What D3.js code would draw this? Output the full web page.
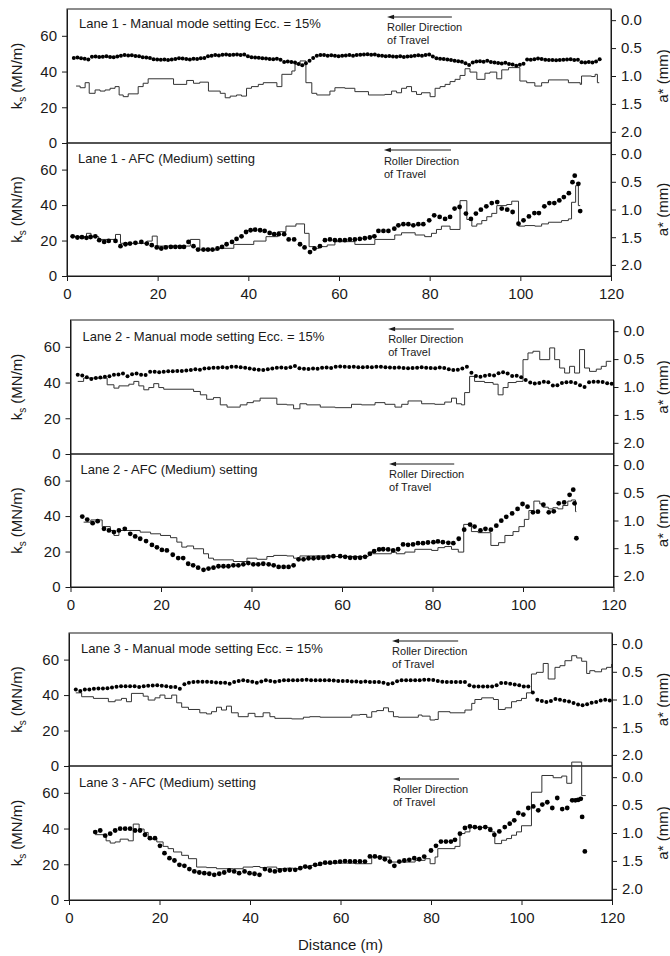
<!DOCTYPE html>
<html>
<head>
<meta charset="utf-8">
<script src="https://cdn.jsdelivr.net/npm/d3@7"></script>
<style>
  html, body { margin: 0; padding: 0; background: #fff; }
  svg { display: block; font-family: "Liberation Sans", Arial, sans-serif; }
</style>
</head>
<body>
<svg id="chart" width="670" height="956"></svg>
<script>
// ---------------- data ----------------
const distanceTicks = [0, 20, 40, 60, 80, 100, 120];
const ksTicks = [0, 20, 40, 60];
const aTicks = [0, 0.5, 1.0, 1.5, 2.0];
const ksDomain = [0, 75];
const aDomain = [-0.2, 2.2];

const panelTitles = [
  "Lane 1 - Manual mode setting Ecc. = 15%",
  "Lane 1 - AFC (Medium) setting",
  "Lane 2 - Manual mode setting Ecc. = 15%",
  "Lane 2 - AFC (Medium) setting",
  "Lane 3 - Manual mode setting Ecc. = 15%",
  "Lane 3 - AFC (Medium) setting"
];
const directionText = ["Roller Direction", "of Travel"];

// Manual-mode ks readings, evenly spaced along the lane (start, spacing in m)
const lane1ManualStart = 1.5, lane1ManualSpacing = 0.8;
const lane1ManualKs = [
  47.6,47.8,47.5,47.2,46.8,48.3,48.4,48.2,48.3,48.5,
  48.2,48.0,48.4,48.8,49.2,49.0,49.1,48.7,48.5,48.0,
  47.8,47.6,46.9,46.7,46.6,46.7,46.5,46.7,47.0,47.4,
  47.3,47.0,46.8,47.2,47.0,47.4,47.6,48.5,48.8,49.2,
  49.0,49.4,49.6,49.2,49.4,49.6,49.3,49.5,48.6,48.0,
  47.9,47.7,47.4,47.3,47.0,46.9,47.2,46.6,45.4,45.6,
  45.3,45.0,44.2,43.5,44.6,46.0,47.6,48.8,49.2,49.3,
  48.9,49.1,48.8,48.6,48.9,49.0,49.2,48.9,49.3,49.4,
  49.6,49.7,49.4,49.5,49.0,48.8,48.6,48.7,48.4,48.3,
  48.5,48.2,48.4,48.6,48.8,49.1,48.8,49.3,49.5,48.4,
  47.5,47.2,47.0,46.7,46.5,46.0,45.8,45.5,44.6,43.6,
  45.0,45.6,45.8,45.5,46.0,45.4,45.0,44.8,44.5,44.9,
  44.2,44.0,43.2,43.8,44.4,46.8,46.6,46.9,47.3,47.0,
  46.6,46.4,46.5,46.3,46.5,46.6,46.8,46.9,46.4,46.6,
  45.2,45.0,45.4,45.1,45.6,46.9
];
const lane2ManualStart = 1.6, lane2ManualSpacing = 1.0;
const lane2ManualKs = [
  44.3,44.0,43.0,42.0,42.5,42.8,43.2,43.5,44.3,44.5,
  45.0,43.5,44.6,45.0,44.3,44.2,46.0,46.0,45.8,46.0,
  46.3,46.3,46.5,46.5,46.8,47.0,47.5,47.2,47.8,48.0,
  48.3,48.3,48.6,48.3,48.8,48.9,48.5,48.3,47.8,47.5,
  47.2,47.0,47.5,47.8,48.3,48.4,48.2,48.5,49.3,48.0,
  47.7,47.6,47.8,47.7,48.3,48.4,48.2,48.8,49.0,48.9,
  48.7,48.8,48.5,48.6,48.7,48.5,48.8,48.9,48.6,48.4,
  48.3,48.4,48.2,48.0,48.2,48.3,48.5,48.3,48.2,48.0,
  48.4,48.1,47.5,47.0,47.2,47.8,48.8,45.5,43.6,43.3,
  43.8,44.2,44.0,45.2,45.8,45.0,43.6,43.8,43.0,41.4,
  40.0,39.5,39.8,40.5,40.2,38.3,38.5,39.8,40.2,40.3,
  39.8,38.5,37.5,40.2,40.4,40.5,40.3,39.6,39.3
];
const lane3ManualStart = 1.5, lane3ManualSpacing = 1.0;
const lane3ManualKs = [
  43.1,42.3,43.1,43.1,43.5,43.7,43.7,43.9,44.3,44.7,
  45.0,45.0,45.0,45.0,44.6,45.0,45.2,45.4,45.5,45.3,
  45.0,44.6,44.6,43.6,46.1,46.9,47.3,47.5,47.5,47.5,
  47.3,47.1,46.9,46.9,46.4,47.3,48.0,48.3,48.0,47.5,
  46.9,47.6,48.3,48.0,47.5,48.0,48.3,48.3,48.3,48.3,
  48.5,48.7,48.3,48.3,48.3,48.3,48.3,48.2,47.9,47.9,
  47.9,47.7,47.7,47.3,47.7,47.3,47.3,47.3,46.9,46.3,
  46.6,47.8,48.3,48.3,48.3,48.3,48.3,48.7,48.7,48.5,
  47.9,47.5,47.3,47.3,47.3,47.3,47.3,45.6,44.9,44.9,
  44.9,44.9,44.9,45.5,46.8,46.8,46.4,45.9,45.5,44.9,
  44.9,41.5,37.4,36.7,36.1,36.6,37.8,37.3,36.8,36.4,
  35.5,34.7,34.3,34.8,35.6,36.1,36.9,37.3,36.9
];

// AFC ks readings: [distance (m), ks (MN/m)]
const lane1AfcKs = [
  [1.25,22.4],[2.3,21.7],[3.3,21.9],[4.3,21.5],[5.2,22.0],[6.25,22.4],[7.1,20.2],[8.2,19.2],[9.2,19.8],[10.7,19.8],
  [11.8,16.8],[12.9,17.9],[13.9,18.3],[15.1,18.7],[16.4,19.2],[17.6,18.3],[18.7,17.4],[19.8,16.1],[20.8,15.5],[21.8,16.1],
  [22.9,16.4],[23.9,16.4],[24.9,16.4],[25.8,16.4],[26.8,19.2],[27.9,16.8],[28.9,14.9],[30.1,14.9],[31.1,14.9],[32.1,14.9],
  [33.2,15.5],[34.2,16.4],[35.2,17.9],[36.4,19.2],[37.4,20.9],[38.5,22.4],[39.5,24.8],[40.5,25.8],[41.5,26.1],[42.6,25.8],
  [43.6,25.4],[44.7,24.3],[45.7,23.6],[46.7,23.6],[47.9,23.6],[48.9,20.6],[50.1,20.6],[51.4,17.9],[52.4,16.1],[53.6,13.5],
  [54.6,15.5],[55.8,16.8],[56.9,20.2],[58.0,20.6],[59.1,20.2],[60.2,20.2],[61.3,20.2],[62.4,20.6],[63.5,20.6],[64.6,20.9],
  [65.7,21.3],[66.8,21.7],[67.8,22.4],[68.7,25.4],[69.8,25.4],[70.9,25.4],[72.2,26.7],[73.1,28.6],[74.2,29.2],[75.3,29.2],
  [76.4,28.6],[77.5,29.2],[78.6,29.2],[79.9,31.4],[81.0,34.2],[82.2,33.3],[83.4,32.2],[84.5,33.3],[85.5,38.0],[86.6,38.9],
  [88.0,35.2],[89.1,32.2],[90.2,35.2],[91.3,37.4],[92.5,39.3],[93.7,41.1],[94.9,41.7],[95.9,38.0],[97.1,37.4],[98.3,36.1],
  [99.6,29.5],[100.7,31.4],[101.9,33.6],[103.1,35.5],[104.1,35.5],[105.3,39.3],[106.4,41.1],[107.5,41.1],[108.6,42.6],[109.6,44.5],
  [110.7,46.7],[111.5,52.9],[112.0,56.6],[112.8,52.0],[113.2,36.6]
];
const lane2AfcKs = [
  [2.6,39.7],[3.7,38.0],[4.9,36.0],[6.0,37.1],[7.4,32.8],[8.5,31.9],[9.6,31.0],[10.7,31.9],[12.0,32.8],[13.2,30.0],
  [14.3,28.5],[15.4,27.2],[16.7,25.9],[18.0,23.7],[19.1,22.4],[20.2,20.9],[21.3,20.6],[22.6,18.2],[23.8,16.3],[24.9,16.3],
  [26.0,13.1],[27.1,12.2],[28.2,10.9],[29.4,9.7],[30.5,10.4],[31.6,10.9],[32.7,11.7],[33.8,11.7],[34.9,11.7],[36.0,12.2],
  [37.1,12.2],[38.2,12.8],[39.3,13.5],[40.4,12.8],[41.5,12.8],[42.6,13.1],[43.8,12.8],[44.9,12.2],[46.0,11.3],[47.1,11.3],
  [48.2,11.3],[49.3,12.2],[50.4,15.6],[51.5,15.6],[52.6,16.2],[53.7,16.2],[54.8,16.5],[55.9,16.5],[57.0,17.0],[58.1,17.4],
  [59.6,17.4],[60.7,17.0],[61.8,16.5],[62.9,16.5],[64.0,16.5],[65.1,17.0],[66.2,18.7],[67.1,20.2],[68.2,21.2],[69.1,21.3],
  [70.2,21.2],[71.3,20.6],[72.4,21.3],[73.5,24.0],[74.6,23.8],[75.7,24.0],[76.8,24.7],[77.9,24.7],[79.0,25.1],[80.2,25.3],
  [81.2,25.7],[82.3,25.3],[83.5,24.9],[84.6,24.7],[85.8,27.2],[87.0,32.3],[88.3,35.2],[89.3,34.1],[90.6,31.9],[91.7,32.8],
  [92.9,32.3],[94.1,34.6],[95.2,37.4],[96.3,39.6],[97.6,41.5],[98.8,44.0],[99.9,46.8],[101.0,45.3],[102.2,42.1],[103.3,42.5],
  [104.5,46.4],[105.7,42.1],[106.8,42.7],[107.9,47.2],[109.1,47.7],[110.3,52.0],[111.1,54.9],[111.4,47.2],[111.8,27.5]
];
const lane3AfcKs = [
  [5.8,38.0],[6.9,38.9],[8.0,36.0],[9.1,37.1],[10.2,38.9],[11.3,39.9],[12.4,39.9],[13.5,39.9],[14.6,38.9],[15.7,38.9],
  [16.8,36.5],[17.9,34.6],[19.0,34.6],[20.1,30.3],[21.1,26.2],[22.2,23.4],[23.3,22.1],[24.4,19.7],[25.5,19.1],[26.6,17.3],
  [27.7,16.0],[28.8,15.4],[29.9,15.0],[31.0,14.7],[32.1,14.1],[33.2,14.7],[34.3,15.4],[35.4,16.5],[36.5,16.0],[37.6,15.0],
  [38.8,16.0],[39.9,15.0],[41.0,14.7],[42.1,14.1],[43.3,17.3],[44.4,16.5],[45.5,16.0],[46.6,16.5],[47.7,16.9],[48.8,16.9],
  [50.0,16.9],[51.1,17.8],[52.2,18.7],[53.2,18.3],[54.4,19.7],[55.5,20.2],[56.6,20.9],[57.7,20.9],[58.8,21.2],[59.9,21.5],
  [61.0,21.8],[62.1,21.6],[63.2,21.6],[64.3,21.6],[65.4,21.5],[66.5,24.4],[67.6,24.4],[68.7,23.8],[69.8,22.8],[70.9,21.5],
  [71.9,19.1],[73.0,21.5],[74.1,22.1],[75.2,22.5],[76.3,23.4],[77.4,22.8],[78.5,24.3],[80.0,27.7],[81.1,30.3],[82.2,32.7],
  [83.3,32.7],[84.4,32.7],[85.3,33.7],[86.4,37.1],[87.5,40.3],[88.6,41.2],[89.7,40.8],[90.8,40.3],[92.0,40.8],[93.1,39.3],
  [94.0,36.5],[95.1,38.4],[96.3,40.8],[97.4,42.7],[98.4,44.6],[99.3,48.7],[100.4,47.8],[101.5,51.5],[102.6,52.4],[103.7,50.2],
  [104.6,53.4],[105.7,54.7],[106.8,51.5],[107.9,57.1],[109.0,50.9],[110.1,51.5],[111.2,55.8],[111.9,55.8],[112.5,56.0],[113.1,56.6],
  [113.4,46.5],[114.0,27.2]
];

// a* roller readings as steps: [start of interval (m), a* (mm)]; last entry closes the trace
const lane1ManualA = [
  [2.0,1.18],[2.9,1.21],[4.0,1.12],[4.9,1.31],[6.2,1.25],[7.3,1.27],[8.4,1.25],[9.5,1.22],[10.6,1.19],[11.5,1.34],
  [12.4,1.37],[13.5,1.32],[15.7,1.19],[16.8,1.13],[17.9,1.05],[23.5,1.15],[26.4,1.08],[27.9,1.13],[29.3,1.11],[31.2,1.27],
  [33.8,1.31],[34.9,1.39],[36.0,1.36],[37.4,1.34],[38.5,1.36],[39.6,1.22],[40.7,1.19],[42.2,1.15],[43.3,1.12],[46.3,1.19],
  [47.4,0.97],[49.6,0.91],[50.3,0.79],[51.4,0.73],[52.7,1.12],[54.0,1.31],[55.1,1.34],[58.0,1.27],[59.1,1.21],[61.3,1.22],
  [63.5,1.28],[66.5,1.34],[70.1,1.33],[71.6,1.27],[72.7,1.30],[73.8,1.22],[74.9,1.19],[76.0,1.28],[77.1,1.33],[78.2,1.30],
  [80.1,1.37],[81.2,1.22],[82.3,1.19],[83.4,1.15],[84.5,1.10],[85.6,1.06],[86.7,0.99],[87.8,0.87],[88.9,0.93],[90.4,1.06],
  [92.2,0.95],[93.3,0.93],[94.8,1.05],[95.9,0.89],[97.4,0.85],[99.9,1.09],[101.4,1.12],[103.2,1.18],[104.7,1.12],[106.2,1.07],
  [110.6,1.12],[113.2,1.15],[113.5,1.00],[115.7,1.01],[116.5,0.97],[117.0,1.12],[117.4,1.12]
];
const lane1AfcA = [
  [1.25,1.49],[4.3,1.43],[5.3,1.49],[7.0,1.54],[10.7,1.45],[11.8,1.61],[17.6,1.57],[18.8,1.48],[19.9,1.66],[27.2,1.54],
  [29.3,1.73],[33.1,1.70],[36.8,1.63],[41.2,1.57],[43.9,1.49],[46.5,1.40],[48.3,1.30],[50.5,1.26],[52.4,1.43],[53.4,1.67],
  [54.5,1.70],[55.6,1.67],[57.4,1.64],[59.1,1.58],[63.5,1.63],[67.9,1.54],[72.3,1.46],[73.8,1.42],[76.8,1.46],[78.9,1.49],
  [80.4,1.43],[81.5,1.36],[82.6,1.30],[84.5,1.36],[86.7,0.84],[88.2,1.18],[89.3,1.30],[90.4,1.26],[91.5,1.20],[92.6,1.13],
  [93.7,1.07],[94.8,0.93],[97.0,0.91],[98.1,0.85],[99.6,1.30],[101.0,1.29],[103.2,1.30],[104.7,1.26],[106.2,1.23],[109.1,1.20],
  [110.6,1.17],[111.3,0.87],[112.2,0.57],[112.8,0.93],[113.2,0.93]
];
const lane2ManualA = [
  [1.6,0.90],[2.9,0.84],[8.1,0.96],[9.6,1.02],[10.7,0.98],[12.9,0.95],[14.0,0.90],[15.1,0.98],[16.2,1.05],[17.3,1.01],
  [18.4,0.94],[19.5,1.01],[20.6,1.04],[27.2,1.08],[28.7,1.14],[30.1,1.22],[31.6,1.19],[33.1,1.32],[34.6,1.36],[37.5,1.32],
  [39.0,1.28],[40.4,1.25],[41.9,1.20],[45.6,1.31],[47.8,1.32],[49.3,1.39],[50.7,1.30],[52.2,1.32],[55.2,1.36],[58.5,1.37],
  [62.1,1.31],[64.3,1.32],[67.3,1.28],[69.5,1.31],[71.7,1.36],[73.2,1.31],[74.6,1.25],[77.6,1.30],[80.5,1.31],[82.7,1.27],
  [84.2,1.20],[85.3,1.30],[86.4,1.32],[87.1,1.10],[88.2,0.81],[89.3,0.90],[91.5,0.92],[93.4,0.95],[94.5,1.14],[95.6,1.01],
  [96.7,0.92],[98.5,0.90],[100.0,0.51],[101.1,0.39],[102.2,0.36],[103.7,0.51],[105.9,0.30],[107.0,0.51],[108.1,0.66],[109.2,0.75],
  [110.3,0.63],[111.4,0.75],[112.5,0.33],[113.6,0.66],[114.7,0.72],[116.2,0.68],[117.3,0.63],[118.4,0.54],[119.5,0.54]
];
const lane2AfcA = [
  [2.9,1.03],[4.5,0.99],[7.0,1.11],[8.8,1.18],[9.6,1.27],[10.7,1.18],[15.4,1.21],[17.7,1.24],[19.9,1.27],[22.1,1.31],
  [23.5,1.39],[24.6,1.48],[25.7,1.46],[27.2,1.51],[29.4,1.60],[30.5,1.68],[31.6,1.71],[36.0,1.74],[39.0,1.68],[41.2,1.70],
  [43.4,1.65],[44.9,1.63],[47.8,1.64],[49.3,1.68],[50.7,1.64],[58.5,1.65],[65.8,1.57],[66.9,1.60],[70.9,1.57],[72.0,1.60],
  [73.9,1.57],[76.1,1.52],[79.8,1.54],[81.2,1.49],[82.7,1.47],[84.2,1.52],[85.7,1.57],[86.9,1.07],[88.6,1.20],[90.1,1.22],
  [92.9,1.45],[94.6,1.40],[96.0,1.27],[97.8,1.20],[99.1,1.11],[100.3,0.98],[101.3,0.82],[102.4,0.65],[103.7,0.70],[104.4,0.76],
  [105.6,0.79],[106.6,0.77],[107.7,0.79],[108.8,0.73],[109.9,0.65],[110.7,0.63],[111.6,0.84],[111.8,0.84]
];
const lane3ManualA = [
  [1.5,0.88],[2.8,0.95],[5.4,0.98],[8.7,1.04],[10.2,1.01],[11.6,0.98],[12.7,1.04],[13.8,0.89],[16.4,0.94],[17.5,1.01],
  [19.0,0.97],[20.1,0.92],[21.2,0.98],[22.7,0.92],[23.8,1.06],[24.9,1.14],[26.4,1.18],[28.9,1.24],[30.4,1.26],[31.5,1.22],
  [32.6,1.14],[33.7,1.19],[34.8,1.12],[35.9,1.24],[37.4,1.31],[39.6,1.25],[41.1,1.31],[42.9,1.24],[44.4,1.31],[45.5,1.34],
  [49.2,1.35],[51.8,1.32],[53.2,1.31],[55.5,1.32],[62.5,1.28],[64.3,1.27],[65.8,1.32],[66.9,1.22],[68.0,1.20],[69.5,1.15],
  [70.6,1.22],[71.7,1.31],[72.8,1.32],[77.2,1.28],[78.0,1.30],[79.8,1.37],[80.9,1.36],[81.6,1.22],[84.2,1.24],[87.5,1.19],
  [89.0,1.07],[89.7,1.00],[91.2,0.97],[93.8,1.00],[94.9,1.18],[96.4,1.15],[97.8,1.04],[98.9,1.02],[100.0,0.98],[101.1,0.88],
  [102.2,0.54],[103.3,0.51],[104.8,0.35],[105.9,0.63],[107.4,0.42],[108.5,0.39],[109.6,0.30],[111.1,0.21],[112.2,0.25],[113.3,0.31],
  [114.4,0.53],[115.1,0.48],[116.2,0.50],[117.7,0.45],[118.8,0.42],[119.9,0.36]
];
const lane3AfcA = [
  [5.8,1.03],[8.2,1.14],[9.1,1.18],[10.2,1.16],[11.3,1.11],[13.1,1.14],[14.2,0.84],[15.5,0.93],[16.6,0.99],[17.5,1.11],
  [19.4,1.16],[20.8,1.24],[21.9,1.28],[23.1,1.34],[24.9,1.40],[26.4,1.46],[28.2,1.61],[30.4,1.62],[32.6,1.64],[36.3,1.64],
  [38.5,1.61],[40.7,1.60],[42.2,1.62],[43.7,1.61],[45.9,1.64],[48.1,1.63],[49.6,1.64],[51.1,1.61],[53.2,1.58],[55.5,1.54],
  [63.2,1.55],[66.9,1.43],[70.9,1.52],[76.5,1.49],[78.7,1.46],[79.8,1.55],[80.9,1.43],[81.5,1.28],[85.3,1.24],[86.4,1.01],
  [87.5,0.98],[88.6,0.90],[93.4,0.98],[94.1,1.19],[95.6,1.13],[96.7,1.10],[97.8,1.04],[98.9,0.98],[100.0,0.87],[102.2,0.27],
  [104.5,-0.03],[107.0,0.01],[108.9,-0.02],[110.0,0.11],[111.1,-0.27],[113.3,0.33],[114.2,0.33]
];

// ---------------- layout ----------------
const svg = d3.select("#chart");
const ink = "#1a1a1a";

const groups = [
  { left: 67,   right: 611,   top: 9,   mid: 143, bottom: 276 },
  { left: 70.5, right: 613.5, top: 320, mid: 454, bottom: 587 },
  { left: 69,   right: 612,   top: 633, mid: 766, bottom: 900 }
];

const evenly = (start, spacing, values) => values.map((v, i) => [start + i * spacing, v]);

const panels = [
  { g: 0, lower: false, ks: evenly(lane1ManualStart, lane1ManualSpacing, lane1ManualKs), a: lane1ManualA, r: 2.0,
    titleDx: 12, titleDy: 19, arrow: [70.6, 84.9], arrowDy: 8, textDy: 22 },
  { g: 0, lower: true, ks: lane1AfcKs, a: lane1AfcA, r: 2.4,
    titleDx: 11, titleDy: 20, arrow: [69.9, 84.7], arrowDy: 7, textDy: 22 },
  { g: 1, lower: false, ks: evenly(lane2ManualStart, lane2ManualSpacing, lane2ManualKs), a: lane2ManualA, r: 2.0,
    titleDx: 12, titleDy: 21, arrow: [70.2, 84.7], arrowDy: 9, textDy: 23 },
  { g: 1, lower: true, ks: lane2AfcKs, a: lane2AfcA, r: 2.4,
    titleDx: 10, titleDy: 20, arrow: [70.4, 84.8], arrowDy: 10, textDy: 24 },
  { g: 2, lower: false, ks: evenly(lane3ManualStart, lane3ManualSpacing, lane3ManualKs), a: lane3ManualA, r: 2.0,
    titleDx: 12, titleDy: 20, arrow: [71.4, 86.0], arrowDy: 8, textDy: 22 },
  { g: 2, lower: true, ks: lane3AfcKs, a: lane3AfcA, r: 2.4,
    titleDx: 10, titleDy: 21, arrow: [71.6, 86.2], arrowDy: 13, textDy: 27 }
];

panels.forEach((p, i) => {
  const G = groups[p.g];
  const top = p.lower ? G.mid : G.top;
  const bottom = p.lower ? G.bottom : G.mid;

  const x = d3.scaleLinear().domain([0, 120]).range([G.left, G.right]);
  const yK = d3.scaleLinear().domain(ksDomain).range([bottom, top]);
  const yA = d3.scaleLinear().domain(aDomain).range([top, bottom]);

  const layer = svg.append("g");

  // frame
  layer.append("rect")
    .attr("x", G.left).attr("y", top)
    .attr("width", G.right - G.left).attr("height", bottom - top)
    .attr("fill", "none").attr("stroke", ink).attr("stroke-width", 1);

  // a* step trace
  const step = d3.line()
    .x(d => x(d[0]))
    .y(d => yA(d[1]))
    .curve(d3.curveStepAfter);
  layer.append("path")
    .datum(p.a)
    .attr("d", step)
    .attr("fill", "none")
    .attr("stroke", "#333")
    .attr("stroke-width", 1);

  // ks points
  layer.append("g").selectAll("circle")
    .data(p.ks)
    .join("circle")
    .attr("cx", d => x(d[0]))
    .attr("cy", d => yK(d[1]))
    .attr("r", p.r)
    .attr("fill", "#000");

  // axes
  const styleAxis = sel => {
    sel.selectAll("path.domain").attr("stroke", ink);
    sel.selectAll(".tick line").attr("stroke", ink);
    sel.selectAll(".tick text").attr("fill", ink).attr("font-size", 15)
      .attr("font-family", '"Liberation Sans", Arial, sans-serif');
  };
  layer.append("g")
    .attr("transform", `translate(${G.left},0)`)
    .call(d3.axisLeft(yK).tickValues(ksTicks).tickSize(5).tickPadding(5).tickSizeOuter(0))
    .call(styleAxis);
  layer.append("g")
    .attr("transform", `translate(${G.right},0)`)
    .call(d3.axisRight(yA).tickValues(aTicks).tickFormat(d3.format(".1f")).tickSize(5).tickPadding(5).tickSizeOuter(0))
    .call(styleAxis);
  if (p.lower) {
    layer.append("g")
      .attr("transform", `translate(0,${bottom})`)
      .call(d3.axisBottom(x).tickValues(distanceTicks).tickSize(5).tickPadding(7).tickSizeOuter(0))
      .call(styleAxis);
  }

  // panel title
  layer.append("text")
    .attr("x", G.left + p.titleDx).attr("y", top + p.titleDy)
    .attr("font-size", 13).attr("fill", ink)
    .text(panelTitles[i]);

  // roller direction annotation
  const ax0 = x(p.arrow[0]), ax1 = x(p.arrow[1]), ay = top + p.arrowDy;
  layer.append("line")
    .attr("x1", ax0 + 4).attr("x2", ax1).attr("y1", ay).attr("y2", ay)
    .attr("stroke", ink).attr("stroke-width", 1);
  layer.append("path")
    .attr("d", `M${ax0},${ay} L${ax0 + 7},${ay - 2.2} L${ax0 + 7},${ay + 2.2} Z`)
    .attr("fill", ink);
  directionText.forEach((t, k) => {
    layer.append("text")
      .attr("x", ax0).attr("y", top + p.textDy + k * 12.5)
      .attr("font-size", 11).attr("fill", ink)
      .text(t);
  });

  // axis titles
  const cy = (top + bottom) / 2;
  const ksLabel = layer.append("text")
    .attr("transform", `translate(22,${cy}) rotate(-90)`)
    .attr("text-anchor", "middle")
    .attr("font-size", 15).attr("fill", ink);
  ksLabel.append("tspan").text("k");
  ksLabel.append("tspan").attr("font-size", 10).attr("dy", 4).text("s");
  ksLabel.append("tspan").attr("dy", -4).text(" (MN/m)");

  layer.append("text")
    .attr("transform", `translate(668,${cy}) rotate(-90)`)
    .attr("text-anchor", "middle")
    .attr("font-size", 15).attr("fill", ink)
    .text("a* (mm)");
});

// shared distance title
svg.append("text")
  .attr("x", (groups[2].left + groups[2].right) / 2)
  .attr("y", 950)
  .attr("text-anchor", "middle")
  .attr("font-size", 15).attr("fill", ink)
  .text("Distance (m)");
</script>
</body>
</html>
